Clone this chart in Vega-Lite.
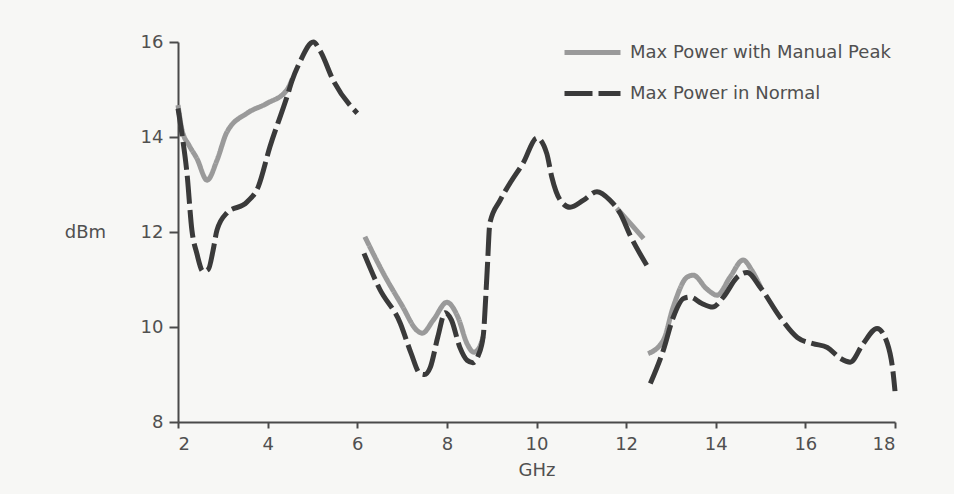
{
  "$schema": "https://vega.github.io/schema/vega-lite/v6.json",
  "width": 717,
  "height": 380,
  "autosize": "none",
  "padding": {"left": 178, "top": 42, "right": 59, "bottom": 72},
  "background": "#f7f7f5",
  "config": {
    "view": {"stroke": null},
    "font": "DejaVu Sans",
    "axis": {"labelFont": "DejaVu Sans", "labelFontSize": 18, "labelColor": "#505050", "titleFont": "DejaVu Sans", "titleFontSize": 18, "titleColor": "#505050", "titleFontWeight": "normal", "domainColor": "#4a4a4a", "domainWidth": 2, "tickColor": "#4a4a4a", "tickWidth": 2, "grid": false}
  },
  "datasets": {
    "pts": [
      {"series": "Max Power with Manual Peak", "seg": 1, "x": 2.0, "y": 14.67},
      {"series": "Max Power with Manual Peak", "seg": 1, "x": 2.09, "y": 14.15},
      {"series": "Max Power with Manual Peak", "seg": 1, "x": 2.25, "y": 13.82},
      {"series": "Max Power with Manual Peak", "seg": 1, "x": 2.42, "y": 13.55},
      {"series": "Max Power with Manual Peak", "seg": 1, "x": 2.65, "y": 13.09},
      {"series": "Max Power with Manual Peak", "seg": 1, "x": 2.87, "y": 13.51},
      {"series": "Max Power with Manual Peak", "seg": 1, "x": 3.09, "y": 14.1},
      {"series": "Max Power with Manual Peak", "seg": 1, "x": 3.54, "y": 14.5},
      {"series": "Max Power with Manual Peak", "seg": 1, "x": 3.99, "y": 14.71},
      {"series": "Max Power with Manual Peak", "seg": 1, "x": 4.43, "y": 14.99},
      {"series": "Max Power with Manual Peak", "seg": 1, "x": 4.55, "y": 15.22},
      {"series": "Max Power with Manual Peak", "seg": 2, "x": 6.17, "y": 11.9},
      {"series": "Max Power with Manual Peak", "seg": 2, "x": 6.6, "y": 11.1},
      {"series": "Max Power with Manual Peak", "seg": 2, "x": 7.0, "y": 10.45},
      {"series": "Max Power with Manual Peak", "seg": 2, "x": 7.33, "y": 9.93},
      {"series": "Max Power with Manual Peak", "seg": 2, "x": 7.45, "y": 9.87},
      {"series": "Max Power with Manual Peak", "seg": 2, "x": 7.7, "y": 10.15},
      {"series": "Max Power with Manual Peak", "seg": 2, "x": 8.0, "y": 10.52},
      {"series": "Max Power with Manual Peak", "seg": 2, "x": 8.25, "y": 10.2},
      {"series": "Max Power with Manual Peak", "seg": 2, "x": 8.45, "y": 9.65},
      {"series": "Max Power with Manual Peak", "seg": 2, "x": 8.6, "y": 9.47},
      {"series": "Max Power with Manual Peak", "seg": 2, "x": 8.72, "y": 9.56},
      {"series": "Max Power with Manual Peak", "seg": 2, "x": 8.81, "y": 9.8},
      {"series": "Max Power with Manual Peak", "seg": 3, "x": 11.79, "y": 12.5},
      {"series": "Max Power with Manual Peak", "seg": 3, "x": 11.98, "y": 12.3},
      {"series": "Max Power with Manual Peak", "seg": 3, "x": 12.16, "y": 12.11},
      {"series": "Max Power with Manual Peak", "seg": 3, "x": 12.39, "y": 11.86},
      {"series": "Max Power with Manual Peak", "seg": 4, "x": 12.49, "y": 9.44},
      {"series": "Max Power with Manual Peak", "seg": 4, "x": 12.83, "y": 9.72},
      {"series": "Max Power with Manual Peak", "seg": 4, "x": 13.05, "y": 10.42},
      {"series": "Max Power with Manual Peak", "seg": 4, "x": 13.36, "y": 11.05},
      {"series": "Max Power with Manual Peak", "seg": 4, "x": 13.5, "y": 11.09},
      {"series": "Max Power with Manual Peak", "seg": 4, "x": 13.8, "y": 10.8},
      {"series": "Max Power with Manual Peak", "seg": 4, "x": 14.03, "y": 10.67},
      {"series": "Max Power with Manual Peak", "seg": 4, "x": 14.32, "y": 11.05},
      {"series": "Max Power with Manual Peak", "seg": 4, "x": 14.61, "y": 11.41},
      {"series": "Max Power with Manual Peak", "seg": 4, "x": 14.8, "y": 11.2},
      {"series": "Max Power with Manual Peak", "seg": 4, "x": 15.0, "y": 10.84},
      {"series": "Max Power in Normal", "seg": 1, "x": 2.0, "y": 14.6},
      {"series": "Max Power in Normal", "seg": 1, "x": 2.09, "y": 14.05},
      {"series": "Max Power in Normal", "seg": 1, "x": 2.2, "y": 13.24},
      {"series": "Max Power in Normal", "seg": 1, "x": 2.31, "y": 12.04},
      {"series": "Max Power in Normal", "seg": 1, "x": 2.42, "y": 11.55},
      {"series": "Max Power in Normal", "seg": 1, "x": 2.56, "y": 11.17},
      {"series": "Max Power in Normal", "seg": 1, "x": 2.68, "y": 11.22},
      {"series": "Max Power in Normal", "seg": 1, "x": 2.78, "y": 11.6},
      {"series": "Max Power in Normal", "seg": 1, "x": 2.87, "y": 12.04},
      {"series": "Max Power in Normal", "seg": 1, "x": 3.09, "y": 12.4},
      {"series": "Max Power in Normal", "seg": 1, "x": 3.54, "y": 12.63},
      {"series": "Max Power in Normal", "seg": 1, "x": 3.79, "y": 12.95},
      {"series": "Max Power in Normal", "seg": 1, "x": 4.05, "y": 13.79},
      {"series": "Max Power in Normal", "seg": 1, "x": 4.43, "y": 14.84},
      {"series": "Max Power in Normal", "seg": 1, "x": 4.55, "y": 15.2},
      {"series": "Max Power in Normal", "seg": 1, "x": 4.72, "y": 15.58},
      {"series": "Max Power in Normal", "seg": 1, "x": 5.02, "y": 16.0},
      {"series": "Max Power in Normal", "seg": 1, "x": 5.18, "y": 15.8},
      {"series": "Max Power in Normal", "seg": 1, "x": 5.46, "y": 15.2},
      {"series": "Max Power in Normal", "seg": 1, "x": 6.0, "y": 14.5},
      {"series": "Max Power in Normal", "seg": 2, "x": 6.15, "y": 11.55},
      {"series": "Max Power in Normal", "seg": 2, "x": 6.5, "y": 10.8},
      {"series": "Max Power in Normal", "seg": 2, "x": 6.96, "y": 10.08},
      {"series": "Max Power in Normal", "seg": 2, "x": 7.2, "y": 9.45},
      {"series": "Max Power in Normal", "seg": 2, "x": 7.4, "y": 9.02},
      {"series": "Max Power in Normal", "seg": 2, "x": 7.5, "y": 9.0},
      {"series": "Max Power in Normal", "seg": 2, "x": 7.63, "y": 9.15},
      {"series": "Max Power in Normal", "seg": 2, "x": 7.8, "y": 9.8},
      {"series": "Max Power in Normal", "seg": 2, "x": 7.96, "y": 10.3},
      {"series": "Max Power in Normal", "seg": 2, "x": 8.1, "y": 10.15},
      {"series": "Max Power in Normal", "seg": 2, "x": 8.29, "y": 9.57},
      {"series": "Max Power in Normal", "seg": 2, "x": 8.45, "y": 9.3},
      {"series": "Max Power in Normal", "seg": 2, "x": 8.58, "y": 9.25},
      {"series": "Max Power in Normal", "seg": 2, "x": 8.7, "y": 9.4},
      {"series": "Max Power in Normal", "seg": 2, "x": 8.81, "y": 9.8},
      {"series": "Max Power in Normal", "seg": 2, "x": 8.9, "y": 11.2},
      {"series": "Max Power in Normal", "seg": 2, "x": 8.96, "y": 12.19},
      {"series": "Max Power in Normal", "seg": 2, "x": 9.19, "y": 12.67},
      {"series": "Max Power in Normal", "seg": 2, "x": 9.41, "y": 13.03},
      {"series": "Max Power in Normal", "seg": 2, "x": 9.7, "y": 13.45},
      {"series": "Max Power in Normal", "seg": 2, "x": 10.01, "y": 13.98},
      {"series": "Max Power in Normal", "seg": 2, "x": 10.23, "y": 13.65},
      {"series": "Max Power in Normal", "seg": 2, "x": 10.34, "y": 13.16},
      {"series": "Max Power in Normal", "seg": 2, "x": 10.53, "y": 12.67},
      {"series": "Max Power in Normal", "seg": 2, "x": 10.75, "y": 12.52},
      {"series": "Max Power in Normal", "seg": 2, "x": 11.05, "y": 12.67},
      {"series": "Max Power in Normal", "seg": 2, "x": 11.35, "y": 12.85},
      {"series": "Max Power in Normal", "seg": 2, "x": 11.64, "y": 12.67},
      {"series": "Max Power in Normal", "seg": 2, "x": 11.87, "y": 12.39},
      {"series": "Max Power in Normal", "seg": 2, "x": 12.09, "y": 11.93},
      {"series": "Max Power in Normal", "seg": 2, "x": 12.46, "y": 11.3},
      {"series": "Max Power in Normal", "seg": 3, "x": 12.54, "y": 8.81},
      {"series": "Max Power in Normal", "seg": 3, "x": 12.83, "y": 9.51},
      {"series": "Max Power in Normal", "seg": 3, "x": 13.05, "y": 10.2},
      {"series": "Max Power in Normal", "seg": 3, "x": 13.28, "y": 10.6},
      {"series": "Max Power in Normal", "seg": 3, "x": 13.43, "y": 10.63},
      {"series": "Max Power in Normal", "seg": 3, "x": 13.68, "y": 10.5},
      {"series": "Max Power in Normal", "seg": 3, "x": 13.93, "y": 10.42},
      {"series": "Max Power in Normal", "seg": 3, "x": 14.17, "y": 10.63},
      {"series": "Max Power in Normal", "seg": 3, "x": 14.48, "y": 11.05},
      {"series": "Max Power in Normal", "seg": 3, "x": 14.7, "y": 11.15},
      {"series": "Max Power in Normal", "seg": 3, "x": 14.99, "y": 10.84},
      {"series": "Max Power in Normal", "seg": 3, "x": 15.44, "y": 10.2},
      {"series": "Max Power in Normal", "seg": 3, "x": 15.82, "y": 9.78},
      {"series": "Max Power in Normal", "seg": 3, "x": 16.17, "y": 9.65},
      {"series": "Max Power in Normal", "seg": 3, "x": 16.49, "y": 9.57},
      {"series": "Max Power in Normal", "seg": 3, "x": 16.78, "y": 9.34},
      {"series": "Max Power in Normal", "seg": 3, "x": 17.0, "y": 9.26},
      {"series": "Max Power in Normal", "seg": 3, "x": 17.29, "y": 9.65},
      {"series": "Max Power in Normal", "seg": 3, "x": 17.6, "y": 9.97},
      {"series": "Max Power in Normal", "seg": 3, "x": 17.83, "y": 9.65},
      {"series": "Max Power in Normal", "seg": 3, "x": 17.96, "y": 9.02},
      {"series": "Max Power in Normal", "seg": 3, "x": 18.0, "y": 8.65}
    ]
  },
  "data": {"name": "pts"},
  "mark": {"type": "line", "interpolate": "monotone", "strokeWidth": 5, "strokeCap": "butt", "clip": false},
  "encoding": {
    "x": {"field": "x", "type": "quantitative", "scale": {"domain": [2, 18], "nice": false, "zero": false},
      "axis": {"values": [2, 4, 6, 8, 10, 12, 14, 16, 18], "title": "GHz", "tickSize": 6, "labelPadding": 7, "titleY": 48, "titleBaseline": "middle"}},
    "y": {"field": "y", "type": "quantitative", "scale": {"domain": [8, 16], "nice": false, "zero": false},
      "axis": {"values": [8, 10, 12, 14, 16], "title": "dBm", "tickSize": 9, "labelPadding": 6, "titleAngle": 0, "titleX": -93, "titleY": 190, "titleAlign": "center", "titleBaseline": "middle"}},
    "color": {"field": "series", "type": "nominal",
      "scale": {"domain": ["Max Power with Manual Peak", "Max Power in Normal"], "range": ["#9a9a9a", "#3a3a3a"]},
      "legend": {"title": null, "orient": "none", "legendX": 384, "legendY": -20, "symbolType": "stroke", "symbolSize": 3136, "symbolStrokeWidth": 5, "labelFontSize": 18, "labelFont": "DejaVu Sans", "labelColor": "#505050", "labelOffset": 7, "labelLimit": 400, "rowPadding": -20, "padding": 0}},
    "strokeDash": {"field": "series", "type": "nominal",
      "scale": {"domain": ["Max Power with Manual Peak", "Max Power in Normal"], "range": [[1, 0], [28, 6]]},
      "legend": null},
    "detail": {"field": "seg", "type": "nominal"},
    "order": {"field": "x", "type": "quantitative"}
  }
}
